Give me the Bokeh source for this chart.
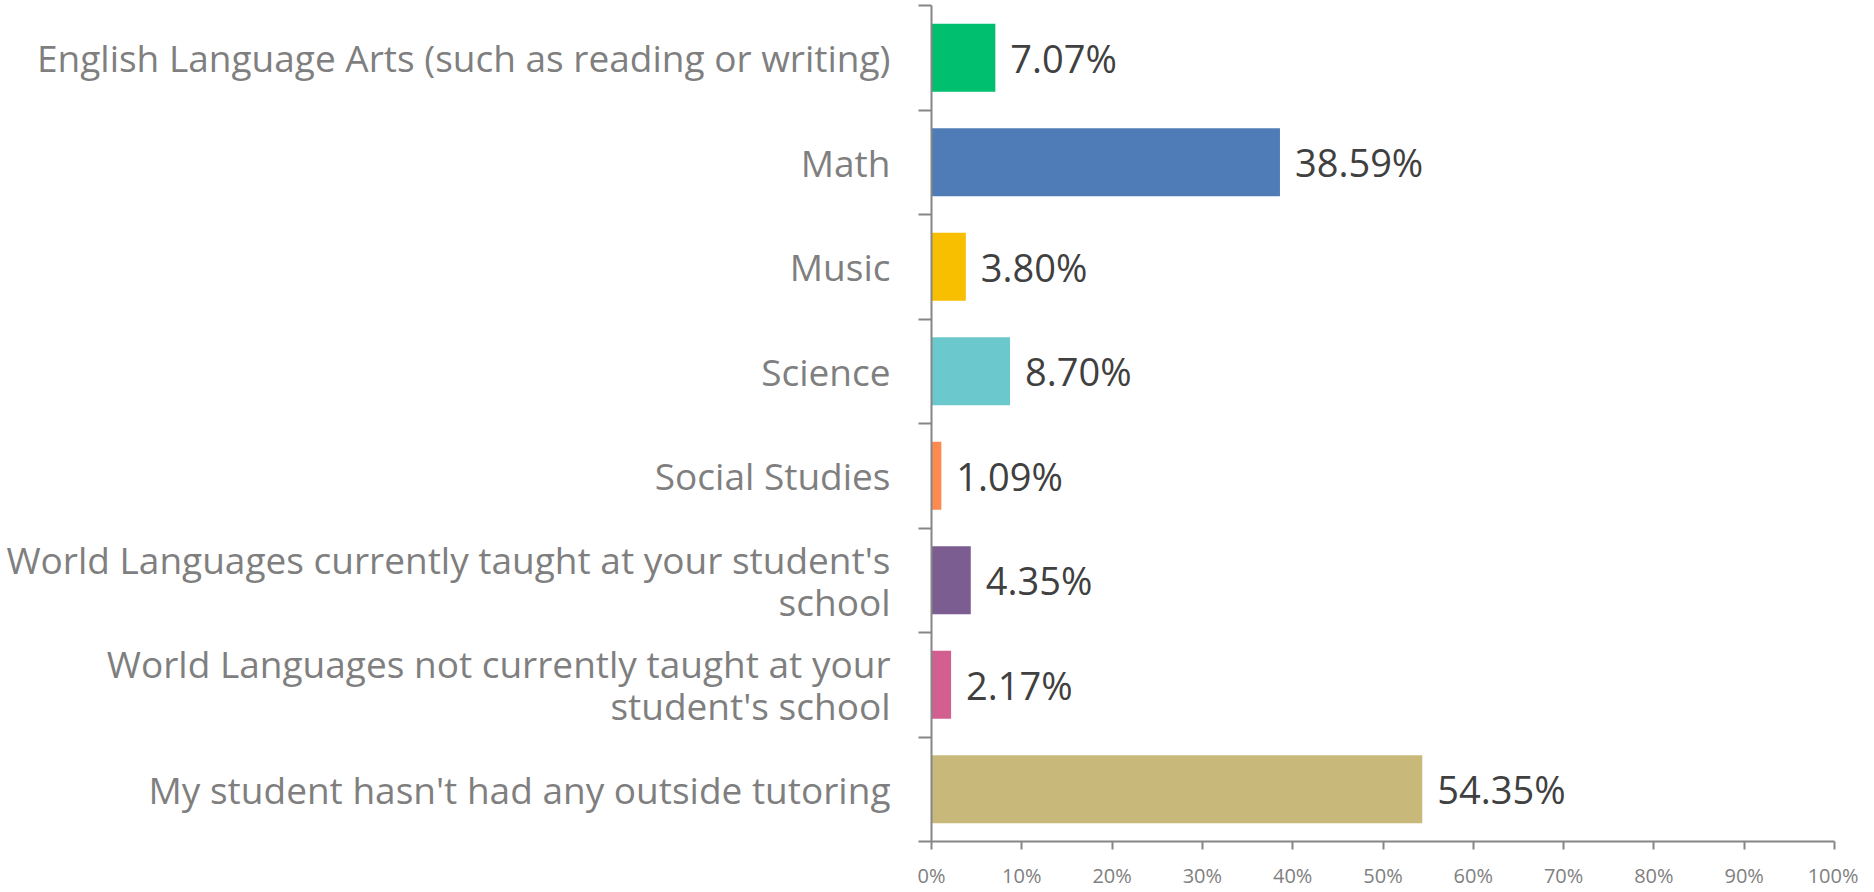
from bokeh.plotting import figure
from bokeh.models import Range1d, FixedTicker, NumeralTickFormatter, ColumnDataSource
from bokeh.core.properties import value
from bokeh.embed import file_html
from bokeh.resources import INLINE

categories = [
    "English Language Arts (such as reading or writing)",
    "Math",
    "Music",
    "Science",
    "Social Studies",
    "World Languages currently taught at your student's\nschool",
    "World Languages not currently taught at your\nstudent's school",
    "My student hasn't had any outside tutoring",
]
percent_values = [7.07, 38.59, 3.80, 8.70, 1.09, 4.35, 2.17, 54.35]
bar_colors = ["#00BF6F", "#4F7CB6", "#F8BE00", "#6BC8CC", "#FD8A4E", "#7C5D91", "#D35F91", "#C8B879"]
x_ticks = [i / 10 for i in range(11)]

n = len(categories)
centers = [i + 0.5 for i in range(n)]
shares = [v / 100 for v in percent_values]
labels = [f"{v:.2f}%" for v in percent_values]

src = ColumnDataSource(dict(y=centers, share=shares, color=bar_colors, label=labels))

p = figure(width=1858, height=891, output_backend="svg", toolbar_location=None,
           x_range=Range1d(0, 1), y_range=Range1d(n, 0),
           min_border_left=931, min_border_right=24, min_border_top=5, min_border_bottom=44)
p.outline_line_color = None
p.xgrid.grid_line_color = None
p.ygrid.grid_line_color = None

p.hbar(y="y", left=0, right="share", height=0.65, color="color", line_color=None, source=src)
p.text(x="share", y="y", text="label", x_offset=15, text_align="left", text_baseline="middle",
       text_font=value("Open Sans"), text_font_size="38px", text_color="#404040", source=src)

# x axis
xa = p.xaxis[0]
xa.ticker = FixedTicker(ticks=x_ticks)
xa.formatter = NumeralTickFormatter(format="0%")
xa.axis_line_color = "#868686"
xa.axis_line_width = 2
xa.major_tick_line_color = "#868686"
xa.major_tick_line_width = 2
xa.major_tick_in = 0
xa.major_tick_out = 8
xa.minor_tick_line_color = None
xa.major_label_text_font = "Open Sans"
xa.major_label_text_font_size = "20px"
xa.major_label_text_color = "#808080"
xa.major_label_standoff = 12

# y axis
ya = p.yaxis[0]
ya.ticker = FixedTicker(ticks=centers, minor_ticks=list(range(n + 1)))
ya.major_label_overrides = {c: cat for c, cat in zip(centers, categories)}
ya.axis_line_color = "#868686"
ya.axis_line_width = 2
ya.major_tick_line_color = None
ya.major_tick_in = 0
ya.major_tick_out = 0
ya.minor_tick_line_color = "#868686"
ya.minor_tick_line_width = 2
ya.minor_tick_in = 0
ya.minor_tick_out = 13
ya.major_label_text_font = "Open Sans"
ya.major_label_text_font_size = "37px"
ya.major_label_text_line_height = 0.83
ya.major_label_text_color = "#7F7F7F"
ya.major_label_standoff = 28

open("out.html", "w").write(file_html(p, INLINE))
